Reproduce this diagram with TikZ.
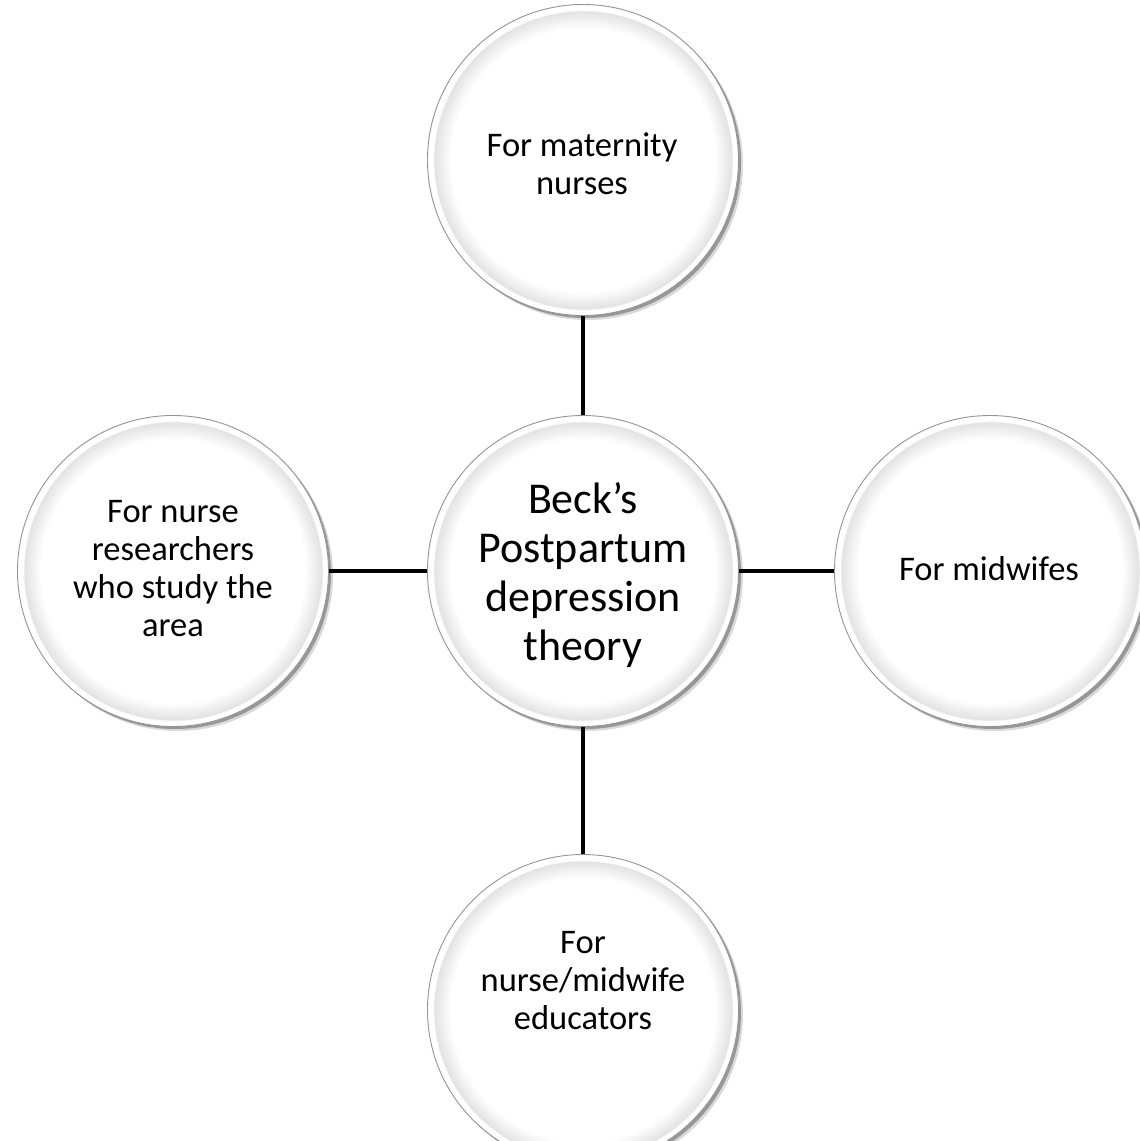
\documentclass[tikz,border=0pt]{standalone}
\usepackage{fontspec}
\setmainfont{Carlito}
\pgfdeclareradialshading{bevel}{\pgfpoint{0bp}{0bp}}{color(0bp)=(white); color(21.2bp)=(white); color(23.9bp)=(black!11); color(24.1bp)=(white); color(25bp)=(white); color(50bp)=(white)}
\begin{document}
\begin{tikzpicture}[x=1pt,y=-1pt]
\tikzset{
  bub/.style={circle, minimum size=311pt, inner sep=0pt, shade, shading=bevel, draw=black!42, line width=0.9pt,
    preaction={fill=black, opacity=0.15, transform canvas={xshift=4.5pt, yshift=-4.5pt}},
    preaction={fill=black, opacity=0.3, transform canvas={xshift=2.5pt, yshift=-2.5pt}},
    preaction={fill=white}},
  outtxt/.style={align=center, font=\fontsize{34.5}{38}\selectfont, inner sep=0pt},
  midtxt/.style={align=center, font=\fontsize{44}{49}\selectfont, inner sep=0pt},
  conn/.style={draw=black, line width=4pt},
}
\useasboundingbox (0,0) rectangle (1140,1141);
\fill[white] (0,0) rectangle (1140,1141);
% circles
\node[bub] (top) at (583,160) {};
\node[bub] (mid) at (583,571) {};
\node[bub] (lft) at (173,571) {};
\node[bub] (rgt) at (990,571) {};
\node[bub] (bot) at (583,1010) {};
% connectors
\draw[conn] (top) -- (mid);
\draw[conn] (lft) -- (mid);
\draw[conn] (mid) -- (rgt);
\draw[conn] (mid) -- (bot);
% texts
\node[outtxt] (topt) at (582,164) {For maternity\\nurses};
\node[midtxt] (midt) at (583,575) {Beck’s\\Postpartum\\depression\\theory};
\node[outtxt] (lftt) at (173,569) {For nurse\\researchers\\who study the\\area};
\node[outtxt] (rgtt) at (989,569) {For midwifes};
\node[outtxt] (bott) at (583,981) {For\\nurse/midwife\\educators};
\end{tikzpicture}
\end{document}
